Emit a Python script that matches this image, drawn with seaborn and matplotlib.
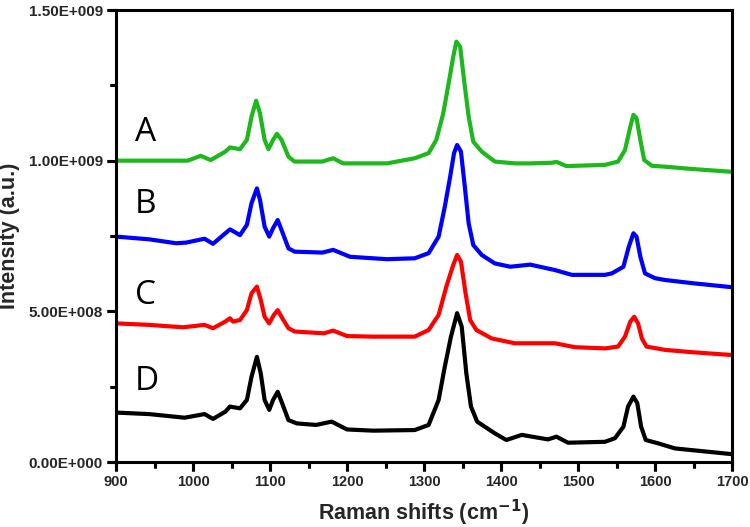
import numpy as np
import pandas as pd
import matplotlib
matplotlib.use("Agg")
import matplotlib.pyplot as plt
import matplotlib.transforms as mtransforms
from matplotlib.markers import TICKDOWN, TICKLEFT
import seaborn as sns
from matplotlib.ticker import MultipleLocator, FixedLocator

# ---- data (intensity in units of 1e8) ----
samples = ["A", "B", "C", "D"]
colors = ["#1cb81c", "#0000ff", "#ff0000", "#000000"]

a_x = [900, 960, 993, 1010, 1023, 1042, 1048, 1061, 1070, 1076, 1082, 1087, 1093, 1098, 1104, 1109, 1115,
       1124, 1132, 1168, 1182, 1195, 1252, 1288, 1306, 1316, 1325, 1332, 1338, 1342, 1347, 1352, 1358,
       1364, 1375, 1392, 1418, 1438, 1466, 1472, 1485, 1535, 1552, 1561, 1568, 1572, 1576, 1581, 1586,
       1596, 1613, 1650, 1700]
a_y = [10.0, 10.0, 10.0, 10.16, 10.02, 10.30, 10.44, 10.38, 10.69, 11.46, 11.99, 11.57, 10.69, 10.38, 10.69, 10.89, 10.69,
       10.13, 9.97, 9.97, 10.08, 9.91, 9.91, 10.08, 10.25, 10.69, 11.57, 12.57, 13.45, 13.95, 13.78, 12.68, 11.46,
       10.63, 10.30, 9.97, 9.91, 9.91, 9.93, 9.96, 9.82, 9.86, 9.97, 10.35, 11.13, 11.52, 11.41, 10.69, 10.02,
       9.83, 9.80, 9.72, 9.63]

b_x = [900, 943, 978, 991, 1015, 1026, 1042, 1048, 1061, 1070, 1076, 1083, 1087, 1093, 1099, 1104, 1110, 1115,
       1124, 1132, 1168, 1182, 1204, 1252, 1288, 1306, 1319, 1327, 1334, 1339, 1343, 1348, 1353, 1358,
       1364, 1375, 1392, 1412, 1438, 1470, 1492, 1535, 1544, 1559, 1566, 1572, 1576, 1581, 1587,
       1600, 1613, 1650, 1700]
b_y = [7.48, 7.39, 7.26, 7.28, 7.41, 7.24, 7.59, 7.72, 7.53, 7.87, 8.59, 9.08, 8.70, 7.81, 7.48, 7.76, 8.03, 7.70,
       7.09, 6.98, 6.95, 7.04, 6.81, 6.73, 6.76, 6.93, 7.48, 8.47, 9.47, 10.25, 10.52, 10.30, 9.14, 7.92,
       7.20, 6.87, 6.59, 6.48, 6.55, 6.37, 6.21, 6.21, 6.26, 6.48, 7.15, 7.59, 7.48, 6.81, 6.26,
       6.10, 6.04, 5.93, 5.80]

c_x = [900, 943, 987, 1015, 1026, 1042, 1048, 1052, 1061, 1070, 1076, 1083, 1088, 1093, 1099, 1105, 1110, 1116,
       1124, 1132, 1170, 1182, 1200, 1234, 1288, 1306, 1319, 1329, 1338, 1343, 1348, 1354, 1360,
       1368, 1388, 1418, 1470, 1496, 1535, 1552, 1561, 1568, 1573, 1578, 1583, 1589, 1613, 1650, 1700]
c_y = [4.60, 4.55, 4.47, 4.55, 4.44, 4.66, 4.77, 4.66, 4.71, 5.04, 5.60, 5.82, 5.38, 4.82, 4.60, 4.88, 5.04, 4.77,
       4.44, 4.33, 4.27, 4.36, 4.18, 4.16, 4.16, 4.38, 4.88, 5.82, 6.54, 6.87, 6.65, 5.60, 4.71,
       4.38, 4.10, 3.94, 3.94, 3.81, 3.77, 3.83, 4.16, 4.66, 4.82, 4.60, 4.10, 3.83, 3.72, 3.64, 3.55]

d_x = [900, 943, 989, 1015, 1026, 1042, 1048, 1061, 1070, 1076, 1083, 1088, 1093, 1099, 1104, 1110, 1115,
       1124, 1135, 1160, 1180, 1200, 1234, 1288, 1306, 1319, 1327, 1335, 1343, 1349, 1355, 1361,
       1369, 1392, 1407, 1427, 1461, 1472, 1487, 1535, 1548, 1559, 1565, 1572, 1577, 1582, 1588,
       1604, 1626, 1700]
d_y = [1.64, 1.59, 1.47, 1.59, 1.43, 1.67, 1.84, 1.78, 2.06, 2.83, 3.49, 2.94, 2.06, 1.73, 2.06, 2.33, 2.00,
       1.39, 1.28, 1.23, 1.34, 1.08, 1.04, 1.06, 1.23, 2.06, 3.16, 4.16, 4.94, 4.49, 2.94, 1.84,
       1.34, 0.95, 0.73, 0.90, 0.75, 0.84, 0.64, 0.67, 0.79, 1.17, 1.84, 2.17, 1.95, 1.17, 0.73,
       0.62, 0.45, 0.26]

label_y = [10.95, 8.53, 5.54, 2.67]
label_x = [938, 938, 938, 940]

x_ticks = [900, 1000, 1100, 1200, 1300, 1400, 1500, 1600, 1700]
y_ticks = [0, 5e8, 1e9, 1.5e9]
y_ticklabels = ["0.00E+000", "5.00E+008", "1.00E+009", "1.50E+009"]

series_x = [a_x, b_x, c_x, d_x]
series_y = [a_y, b_y, c_y, d_y]
frames = []
for s, xs, ys in zip(samples, series_x, series_y):
    frames.append(pd.DataFrame({"shift": xs, "intensity": np.array(ys) * 1e8, "sample": s}))
df = pd.concat(frames, ignore_index=True)

sns.set_theme(style="ticks")
plt.rcParams["font.family"] = ["Liberation Sans", "DejaVu Sans"]

fig = plt.figure(figsize=(7.5, 5.27), dpi=100)
ax = fig.add_axes([116 / 750, 1 - 462 / 527, 616 / 750, 452 / 527])

sns.lineplot(data=df, x="shift", y="intensity", hue="sample", palette=dict(zip(samples, colors)),
             linewidth=3.0, legend=False, estimator=None, sort=False, ax=ax)
for line in ax.get_lines():
    line.set_solid_joinstyle("round")

ax.set_xlim(900, 1700)
ax.set_ylim(0, 1.5e9)
ax.yaxis.set_major_locator(FixedLocator(y_ticks))
ax.yaxis.set_minor_locator(MultipleLocator(2.5e8))
ax.xaxis.set_minor_locator(MultipleLocator(50))
ax.xaxis.set_major_locator(FixedLocator(x_ticks))
ax.set_xticklabels([str(t) for t in x_ticks], fontsize=10.5, fontweight="bold")
ax.set_yticklabels(y_ticklabels, fontsize=11, fontweight="bold")
ax.tick_params(which="major", direction="out", length=6.5, width=2.2, color="black", pad=3,
               bottom=True, left=True, top=False, right=False)
ax.tick_params(which="minor", direction="out", length=4, width=2.2, color="black",
               bottom=True, left=True, top=False, right=False)
for sp in ax.spines.values():
    sp.set_linewidth(2.2)
    sp.set_color("black")
    sp.set_visible(True)

# safety net: tick marks drawn as markers at the tick positions (same place as the axis ticks)
x_minor = [(a + b) / 2 for a, b in zip(x_ticks[:-1], x_ticks[1:])]
y_minor = [(a + b) / 2 for a, b in zip(y_ticks[:-1], y_ticks[1:])]
bx = mtransforms.blended_transform_factory(ax.transData, ax.transAxes)
by = mtransforms.blended_transform_factory(ax.transAxes, ax.transData)
for pos, size in ((x_ticks, 6.5), (x_minor, 4)):
    ax.plot(pos, [0] * len(pos), transform=bx, linestyle="none", marker=TICKDOWN,
            markersize=size, markeredgewidth=2.2, color="black", clip_on=False, zorder=5)
for pos, size in ((y_ticks, 6.5), (y_minor, 4)):
    ax.plot([0] * len(pos), pos, transform=by, linestyle="none", marker=TICKLEFT,
            markersize=size, markeredgewidth=2.2, color="black", clip_on=False, zorder=5)
ax.set_xlim(900, 1700)
ax.set_ylim(0, 1.5e9)

for s, lx, ly in zip(samples, label_x, label_y):
    ax.text(lx, ly * 1e8, s, fontsize=24, family=["Open Sans", "DejaVu Sans"],
            ha="center", va="center", color="black")

ax.set_xlabel("Raman shifts (cm$^{\\mathbf{-1}}$)", fontsize=15.5, fontweight="bold", labelpad=6)
ax.set_ylabel("Intensity (a.u.)", fontsize=15.5, fontweight="bold", labelpad=6)

fig.savefig("out.png", dpi=100)
